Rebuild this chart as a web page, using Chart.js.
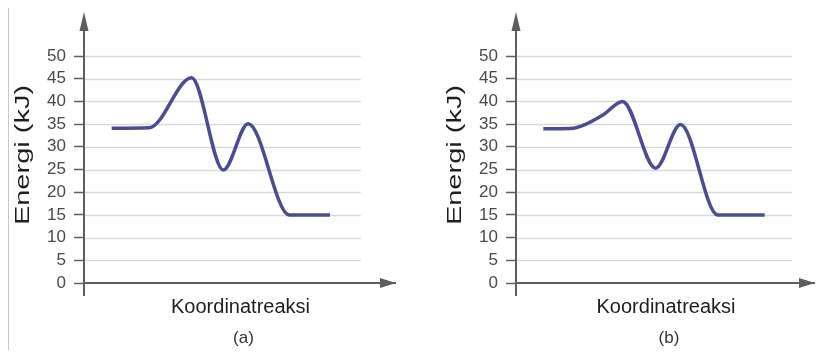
<!DOCTYPE html>
<html>
<head>
<meta charset="utf-8">
<script src="https://cdn.jsdelivr.net/npm/chart.js@4/dist/chart.umd.min.js"></script>
<style>
  html,body{margin:0;padding:0;background:#fff;}
  #wrap{position:relative;width:821px;height:355px;background:#fff;overflow:hidden;}
  canvas{position:absolute;top:0;}
  #edge{position:absolute;left:8px;top:8px;width:1px;height:342px;background:#c8c8c8;}
</style>
</head>
<body>
<div id="wrap">
  <div id="edge"></div>
  <canvas id="ca" width="410" height="355" style="left:0"></canvas>
  <canvas id="cb" width="411" height="355" style="left:410px"></canvas>
</div>
<script>
// ---- data (reaction coordinate units, energy in kJ) ----
const xA = [8.9, 21.0, 34.6, 44.8, 52.8, 66.0, 79.1];
const yA = [34.1, 34.2, 45.2, 24.9, 35.1, 15.0, 15.0];
const xB = [8.8, 17.4, 28.0, 34.3, 45.0, 53.0, 65.0, 80.1];
const yB = [34.0, 34.05, 37.0, 40.0, 25.3, 34.9, 15.0, 15.0];
const yTickValues = [0, 5, 10, 15, 20, 25, 30, 35, 40, 45, 50];
const yTitle = 'Energi (kJ)';
const xTitle = 'Koordinatreaksi';
const captions = ['(a)', '(b)'];

const FONT = '"Liberation Sans", Arial, sans-serif';
const AXIS = '#5e5e5e';

const decor = {
  id: 'decor',
  beforeDatasetsDraw(chart, args, o) {
    const {ctx, chartArea: a, scales: {x, y}} = chart;
    ctx.save();
    ctx.strokeStyle = '#d9d9d9';
    ctx.lineWidth = 1.5;
    const xe = x.getPixelForValue(o.gridEnd);
    y.ticks.forEach(t => {
      if (t.value === 0) return;
      const py = Math.round(y.getPixelForValue(t.value)) + 0.5;
      ctx.beginPath(); ctx.moveTo(a.left + 1, py); ctx.lineTo(xe, py); ctx.stroke();
    });
    ctx.restore();
  },
  afterDraw(chart, args, o) {
    const {ctx, chartArea: a} = chart;
    ctx.save();
    ctx.strokeStyle = AXIS; ctx.fillStyle = AXIS; ctx.lineWidth = 2;
    ctx.beginPath(); ctx.moveTo(a.left, a.bottom + 13); ctx.lineTo(a.left, 28); ctx.stroke();
    ctx.beginPath(); ctx.moveTo(a.left, 12); ctx.lineTo(a.left - 4.5, 31); ctx.lineTo(a.left + 4.5, 31); ctx.closePath(); ctx.fill();
    ctx.beginPath(); ctx.moveTo(a.right + 1, a.bottom); ctx.lineTo(a.right - 15, a.bottom - 5); ctx.lineTo(a.right - 15, a.bottom + 5); ctx.closePath(); ctx.fill();
    ctx.fillStyle = '#1e1e1e';
    ctx.textAlign = 'center'; ctx.textBaseline = 'middle';
    ctx.font = '20px ' + FONT;
    ctx.fillText(xTitle, (a.left + a.right) / 2 + 1, 307);
    ctx.font = '17px ' + FONT;
    ctx.fillStyle = '#333';
    ctx.fillText(o.caption, (a.left + a.right) / 2 + 4, 338);
    ctx.fillStyle = '#1e1e1e';
    ctx.translate(a.left - 61, 155);
    ctx.rotate(-Math.PI / 2);
    ctx.scale(1.45, 1);
    ctx.font = '20px ' + FONT;
    ctx.fillText(yTitle, 0, 0);
    ctx.restore();
  }
};

function makeChart(id, xs, ys, yAxisW, padRight, xMax, caption) {
  return new Chart(document.getElementById(id), {
    type: 'line',
    data: {
      datasets: [{
        data: xs.map((v, i) => ({x: v, y: ys[i]})),
        borderColor: '#4b4c91',
        borderWidth: 3.5,
        pointRadius: 0,
        cubicInterpolationMode: 'monotone',
        fill: false
      }]
    },
    options: {
      responsive: false,
      animation: false,
      devicePixelRatio: 1,
      layout: {padding: {top: 56, right: padRight, left: 0, bottom: 0}},
      plugins: {legend: {display: false}, tooltip: {enabled: false}, decor: {gridEnd: 89, caption}},
      scales: {
        x: {
          type: 'linear', min: 0, max: xMax,
          grid: {display: false},
          ticks: {display: false},
          border: {display: true, color: AXIS, width: 2},
          afterFit: s => { s.height = 72; }
        },
        y: {
          min: 0, max: 50,
          afterBuildTicks: s => { s.ticks = yTickValues.map(v => ({value: v})); },
          ticks: {color: '#4a4a4a', font: {size: 17, family: FONT}, padding: 8, autoSkip: false},
          grid: {drawOnChartArea: false, drawTicks: true, tickLength: 10, tickColor: AXIS, tickWidth: 1.5},
          border: {display: true, color: AXIS, width: 2},
          afterFit: s => { s.width = yAxisW; }
        }
      }
    },
    plugins: [decor]
  });
}

makeChart('ca', xA, yA, 84, 15, 100, captions[0]);
makeChart('cb', xB, yB, 106, 7, 96, captions[1]);
</script>
</body>
</html>
